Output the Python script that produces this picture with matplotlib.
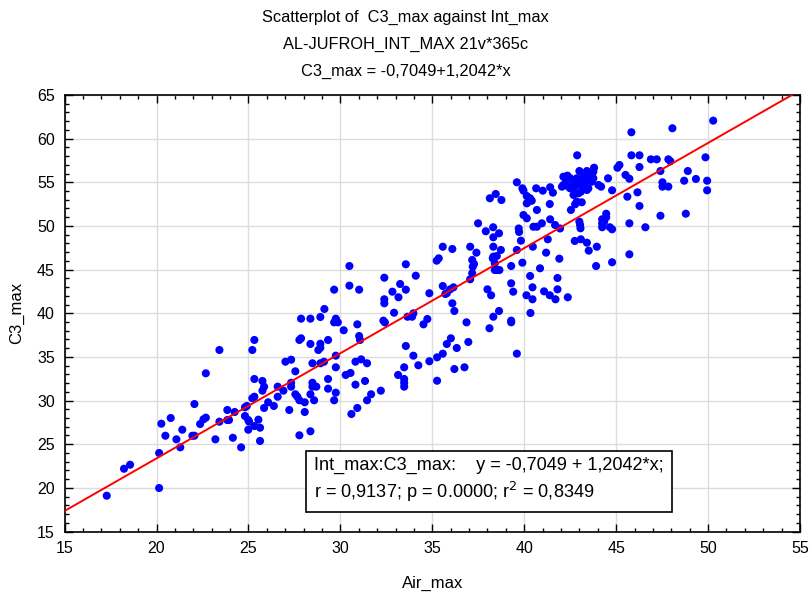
import numpy as np
import matplotlib
matplotlib.use("Agg")
import matplotlib.pyplot as plt
from matplotlib.ticker import MultipleLocator

plt.rcParams['font.family'] = ['Liberation Sans', 'DejaVu Sans']

# Air_max (oś X) i C3_max (oś Y)
air_max = [
    # x < 25.5
    25.32, 23.42, 25.21, 22.68, 25.32, 25.21, 25.32, 22.06, 24.81, 24.91,
    23.85, 24.25, 20.77, 20.26, 22.68, 22.55, 22.37, 23.42, 23.85, 23.94,
    24.81, 24.99, 25.03, 25.32, 21.40, 24.99, 20.48, 21.95, 22.06, 21.08,
    23.20, 24.15, 21.29, 24.60, 20.14, 18.23, 18.56, 20.14, 17.29,
    # 25.5 - 34.5
    30.49, 33.56, 34.10, 32.39, 30.49, 33.25, 31.02, 29.66, 32.83, 33.56,
    33.16, 32.39, 32.39, 29.13, 32.92, 27.86, 28.37, 28.91, 29.75, 29.66,
    29.86, 32.34, 32.42, 33.65, 33.97, 33.90, 30.92, 30.18, 31.02, 31.07,
    27.86, 27.77, 29.33, 28.91, 28.91, 28.80, 28.37, 33.56, 33.97, 29.75,
    31.13, 30.82, 31.45, 27.32, 27.01, 28.48, 28.91, 29.11, 29.75, 27.55,
    33.47, 34.24, 33.14, 33.47, 33.47, 33.47, 30.29, 30.55, 29.33, 27.32,
    27.32, 26.90, 26.59, 25.76, 25.85, 25.76, 30.82, 31.34, 28.48, 28.48,
    28.69, 29.33, 29.75, 32.20, 31.67, 31.45, 27.55, 27.66, 27.77, 26.59,
    26.07, 26.38, 28.37, 28.57, 28.06, 29.66, 27.22, 28.06, 25.85, 30.92,
    30.60, 25.54, 25.63, 25.63, 27.77, 28.37,
    # 34.5 - 44
    42.88, 39.60, 39.90, 39.96, 40.65, 41.01, 41.41, 41.56, 40.14, 40.32,
    40.23, 40.41, 40.14, 38.13, 38.45, 38.76, 40.69, 41.39, 42.68, 42.86,
    43.13, 42.77, 42.54, 39.96, 40.14, 37.49, 41.41, 40.96, 40.69, 40.50,
    41.68, 41.95, 43.00, 43.04, 43.06, 37.91, 38.31, 38.63, 38.32, 39.70,
    39.72, 39.82, 41.28, 42.75, 43.08, 43.41, 43.95, 43.51, 35.57, 36.09,
    37.06, 37.40, 37.17, 37.27, 37.20, 37.17, 37.06, 38.32, 38.73, 38.32,
    38.51, 38.29, 38.40, 38.51, 38.65, 38.40, 39.60, 40.47, 41.19, 35.35,
    35.24, 39.90, 41.91, 39.29, 43.91, 40.86, 35.57, 35.97, 36.15, 35.79,
    35.71, 34.84, 38.00, 38.20, 39.29, 39.40, 40.32, 40.45, 40.45, 40.12,
    41.81, 41.81, 41.08, 41.39, 41.70, 42.37, 36.09, 36.20, 38.63, 38.32,
    40.34, 34.52, 34.73, 36.86, 38.11, 39.29, 39.29, 34.84, 35.26, 35.57,
    35.79, 36.01, 36.33, 36.96, 36.20, 36.75, 35.26, 39.60,
    # gęste skupisko 42 - 44
    43.00, 43.41, 43.76, 43.80, 42.13, 42.35, 42.50, 42.28, 42.68, 42.86,
    43.22, 43.58, 43.76, 43.68, 43.41, 43.04, 43.22, 43.49, 42.13, 42.40,
    42.05, 42.68, 43.08, 43.41, 42.50, 44.04, 42.86, 42.95,
    # x > 44
    50.28, 48.06, 45.83, 45.83, 46.27, 46.89, 47.21, 47.84, 47.95, 49.86,
    45.18, 45.07, 46.27, 47.41, 48.90, 45.51, 45.72, 49.34, 48.70, 49.95,
    47.52, 47.52, 47.84, 44.56, 44.18, 44.78, 46.16, 45.61, 49.95, 46.27,
    47.41, 48.79, 44.46, 44.46, 44.24, 44.35, 44.24, 44.24, 44.66, 44.78,
    45.72, 46.59, 44.78, 45.72,
]

c3_max = [
    36.94, 35.79, 35.79, 33.12, 32.47, 30.26, 30.44, 29.60, 29.23, 29.38,
    28.92, 28.69, 28.00, 27.35, 28.04, 27.85, 27.31, 27.58, 27.77, 27.77,
    28.23, 27.77, 27.58, 27.08, 26.66, 26.66, 25.97, 25.97, 25.97, 25.56,
    25.56, 25.74, 24.64, 24.64, 23.99, 22.19, 22.65, 19.98, 19.10,
    45.41, 45.61, 44.30, 44.07, 43.16, 43.35, 42.70, 42.70, 42.47, 42.70,
    41.83, 41.60, 41.14, 40.49, 40.06, 39.38, 39.38, 39.57, 39.38, 38.96,
    38.96, 39.15, 38.95, 39.60, 39.99, 39.60, 38.73, 38.05, 37.39, 36.94,
    37.13, 36.94, 36.94, 36.51, 36.05, 35.79, 36.48, 36.25, 35.14, 35.14,
    34.72, 34.45, 34.27, 34.68, 34.45, 34.27, 34.27, 34.45, 33.81, 33.35,
    33.81, 34.04, 32.93, 32.47, 32.04, 31.59, 32.93, 33.16, 32.47, 32.04,
    31.59, 31.13, 31.59, 32.24, 31.59, 31.13, 31.82, 32.24, 32.04, 31.59,
    31.59, 31.36, 30.90, 31.13, 30.72, 30.03, 30.72, 30.44, 30.03, 30.44,
    29.80, 29.38, 30.72, 30.03, 29.80, 30.03, 28.92, 28.69, 29.15, 29.15,
    28.46, 27.81, 26.89, 25.37, 26.02, 26.48,
    58.09, 55.00, 54.31, 54.04, 54.31, 54.04, 54.43, 53.81, 53.43, 53.17,
    52.78, 52.89, 52.59, 53.17, 53.66, 52.97, 51.83, 52.51, 53.55, 52.78,
    52.71, 52.48, 51.83, 51.25, 50.88, 50.30, 50.76, 50.30, 49.91, 49.91,
    50.11, 49.71, 50.49, 50.11, 49.73, 49.39, 49.85, 49.16, 48.70, 49.71,
    49.31, 48.31, 48.47, 48.28, 48.47, 48.08, 47.62, 47.17, 47.62, 47.36,
    47.62, 46.94, 46.10, 45.64, 45.33, 44.58, 43.89, 47.62, 47.25, 46.48,
    46.56, 46.29, 45.72, 44.95, 44.95, 44.95, 47.25, 47.62, 46.94, 46.29,
    46.02, 45.79, 46.25, 45.41, 45.41, 45.15, 43.12, 42.74, 42.97, 42.29,
    42.21, 42.29, 42.74, 42.06, 43.43, 42.47, 44.27, 42.97, 41.60, 42.06,
    44.04, 42.74, 42.51, 42.06, 41.60, 41.83, 41.14, 40.26, 40.26, 39.60,
    40.03, 38.73, 39.34, 38.96, 38.28, 39.15, 38.96, 34.50, 34.95, 35.37,
    36.48, 37.13, 36.02, 36.71, 33.61, 33.81, 32.27, 35.37,
    56.29, 56.29, 56.21, 56.67, 55.64, 55.76, 55.46, 55.26, 55.07, 55.46,
    55.64, 55.64, 55.46, 55.07, 55.15, 54.89, 54.50, 54.31, 54.69, 54.50,
    54.50, 54.38, 53.92, 54.12, 54.31, 54.69, 54.69, 53.74,
    62.06, 61.19, 60.73, 58.09, 58.09, 57.63, 57.63, 57.63, 57.41, 57.86,
    56.98, 56.67, 56.75, 56.29, 56.29, 55.84, 55.41, 55.38, 55.18, 55.18,
    55.00, 54.50, 54.50, 55.46, 54.50, 54.08, 53.85, 53.35, 54.08, 52.29,
    51.17, 51.40, 51.40, 50.99, 50.76, 50.49, 50.30, 49.85, 49.85, 49.62,
    50.30, 49.85, 45.84, 46.75,
]

intercept = -0.7049
slope = 1.2042

title_lines = [
    "Scatterplot of  C3_max against Int_max",
    "AL-JUFROH_INT_MAX 21v*365c",
    "C3_max = -0,7049+1,2042*x",
]

fig = plt.figure(figsize=(8.11, 5.97), dpi=100)
ax = fig.add_axes([0.0797, 0.1097, 0.9067, 0.7312])

ax.scatter(air_max, c3_max, s=34, color='#0000ff', edgecolors='none', zorder=3)

xs = np.linspace(15, 55, 200)
ax.plot(xs, intercept + slope * xs, color='#ff0000', linewidth=1.4, zorder=4)

ax.set_xlim(15, 55)
ax.set_ylim(15, 65)
ax.xaxis.set_major_locator(MultipleLocator(5))
ax.yaxis.set_major_locator(MultipleLocator(5))
ax.xaxis.set_minor_locator(MultipleLocator(1))
ax.yaxis.set_minor_locator(MultipleLocator(1))
ax.grid(True, which='major', color='#dcdcdc', linewidth=1.0, zorder=0)
ax.set_axisbelow(True)

ax.tick_params(which='both', direction='in', top=True, right=True,
               labelsize=11.5, width=1.0, color='black')
ax.tick_params(which='major', length=6, pad=7)
ax.tick_params(which='minor', length=3)
for s in ax.spines.values():
    s.set_linewidth(1.2)

ax.set_xlabel('Air_max', fontsize=12, labelpad=14)
ax.set_ylabel('C3_max', fontsize=12, labelpad=9)

for i, line in enumerate(title_lines):
    fig.text(0.5, 1 - (17 + 27 * i) / 597, line, ha='center', va='center',
             fontsize=11.8)

ax.text(0.339, 0.117, "Int_max:C3_max:    y = -0,7049 + 1,2042*x;\n"
        "r = 0,9137; p = 0.0000; r$^2$ = 0,8349",
        transform=ax.transAxes, fontsize=13.1, va='center', ha='left',
        linespacing=1.3, zorder=5,
        bbox=dict(boxstyle='square,pad=0.45', facecolor='white',
                  edgecolor='black', linewidth=1.2))

fig.savefig('out.png', dpi=100)
